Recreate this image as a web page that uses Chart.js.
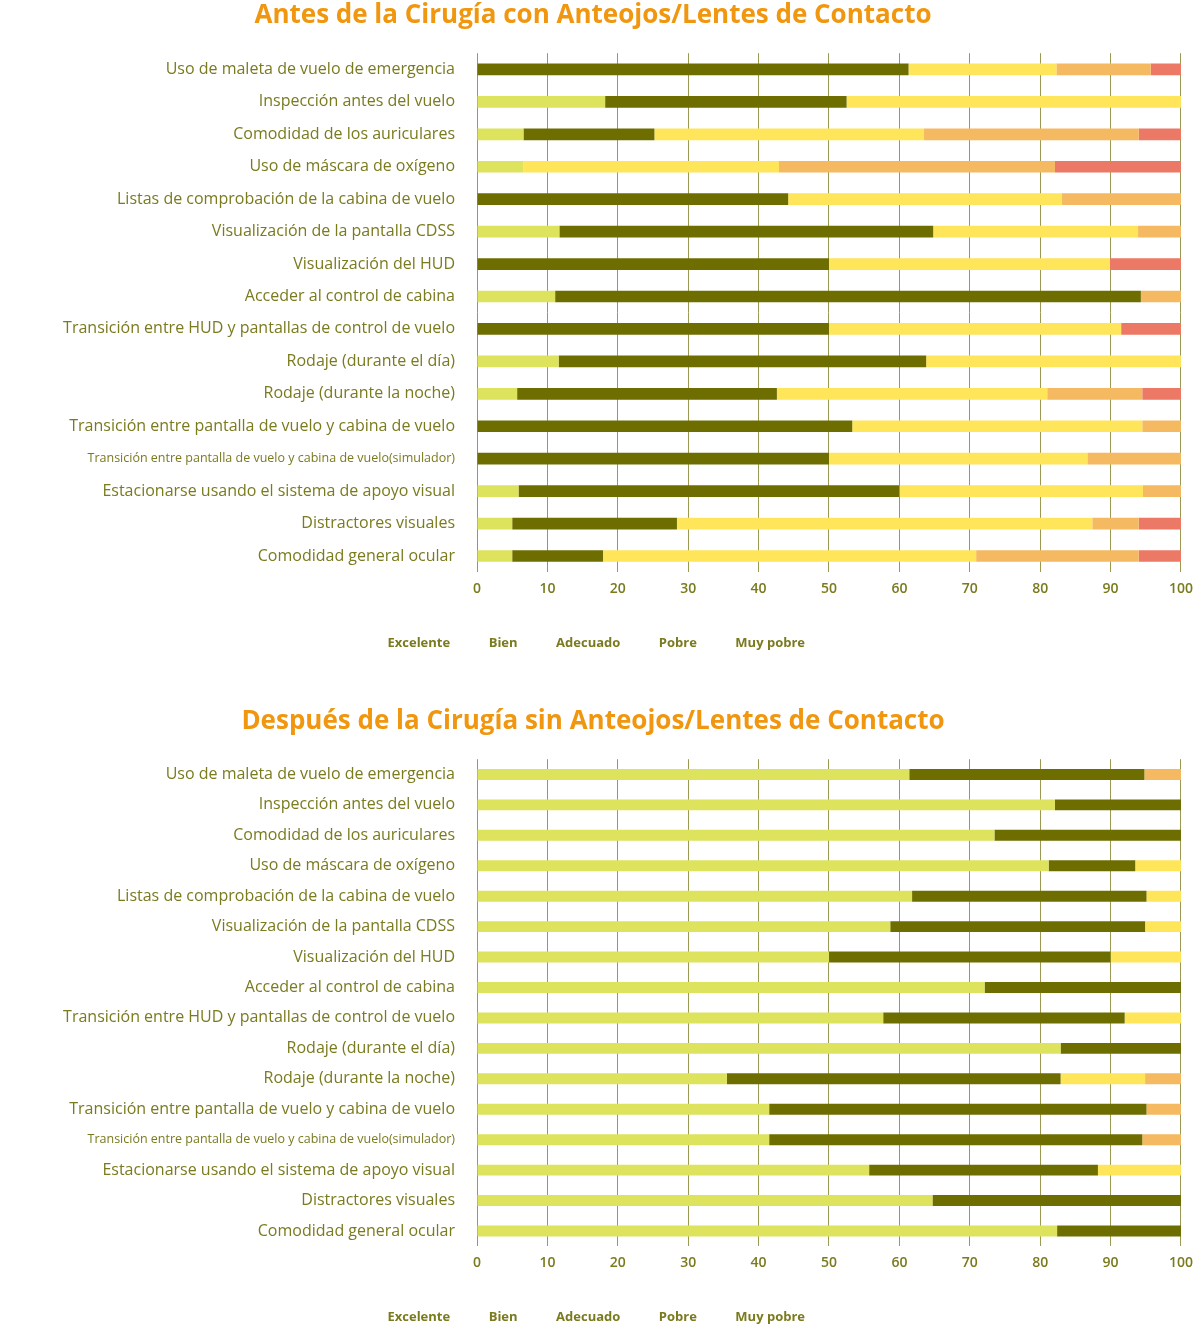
<!DOCTYPE html>
<html>
<head>
<meta charset="utf-8">
<script src="https://cdn.jsdelivr.net/npm/chart.js@4"></script>
<style>
  body { margin: 0; background: #fff; }
  .box { position: relative; width: 1201px; height: 660px; }
  .box + .box { margin-top: 46px; height: 628px; }
</style>
</head>
<body>
<div class="box"><canvas id="before"></canvas></div>
<div class="box"><canvas id="after"></canvas></div>
<script>
var categories = [
  'Uso de maleta de vuelo de emergencia',
  'Inspección antes del vuelo',
  'Comodidad de los auriculares',
  'Uso de máscara de oxígeno',
  'Listas de comprobación de la cabina de vuelo',
  'Visualización de la pantalla CDSS',
  'Visualización del HUD',
  'Acceder al control de cabina',
  'Transición entre HUD y pantallas de control de vuelo',
  'Rodaje (durante el día)',
  'Rodaje (durante la noche)',
  'Transición entre pantalla de vuelo y cabina de vuelo',
  'Transición entre pantalla de vuelo y cabina de vuelo(simulador)',
  'Estacionarse usando el sistema de apoyo visual',
  'Distractores visuales',
  'Comodidad general ocular'
];
var ratings = ['Excelente', 'Bien', 'Adecuado', 'Pobre', 'Muy pobre'];
var ratingColors = ['#dde35c', '#6e6e00', '#fee55a', '#f5b961', '#ec7866'];

// antes de la cirugía
var beforeExcelente = [0, 18.2, 6.6, 6.6, 0, 11.7, 0, 11.1, 0, 11.6, 5.7, 0, 0, 5.9, 5, 5];
var beforeBien      = [61.3, 34.3, 18.6, 0, 44.2, 53.1, 50, 83.2, 50, 52.2, 36.9, 53.3, 50, 54.1, 23.4, 12.9];
var beforeAdecuado  = [21, 47.5, 38.3, 36.3, 38.9, 29.1, 39.9, 0, 41.5, 36.2, 38.4, 41.2, 36.7, 34.6, 59, 53];
var beforePobre     = [13.4, 0, 30.5, 39.2, 16.9, 6.1, 0, 5.7, 0, 0, 13.5, 5.5, 13.3, 5.4, 6.6, 23.1];
var beforeMuyPobre  = [4.3, 0, 6, 17.9, 0, 0, 10.1, 0, 8.5, 0, 5.5, 0, 0, 0, 6, 6];

// después de la cirugía
var afterExcelente = [61.4, 82.1, 73.5, 81.2, 61.8, 58.7, 50, 72.1, 57.7, 82.9, 35.5, 41.5, 41.5, 55.7, 64.7, 82.4];
var afterBien      = [33.4, 17.9, 26.5, 12.3, 33.3, 36.2, 40, 27.9, 34.3, 17.1, 47.4, 53.6, 53, 32.5, 35.3, 17.6];
var afterAdecuado  = [0, 0, 0, 6.5, 4.9, 5.1, 10, 0, 8, 0, 12, 0, 0, 11.8, 0, 0];
var afterPobre     = [5.2, 0, 0, 0, 0, 0, 0, 0, 0, 0, 5.1, 4.9, 5.5, 0, 0, 0];
var afterMuyPobre  = [0, 0, 0, 0, 0, 0, 0, 0, 0, 0, 0, 0, 0, 0, 0, 0];

var xTicks = [0, 10, 20, 30, 40, 50, 60, 70, 80, 90, 100];

var olive = '#7a7a1e';
var font = '"Open Sans", Lato, sans-serif';

function makeChart(id, title, series, padTop) {
  var datasets = series.map(function (vals, i) {
    return {
      label: ratings[i],
      data: vals,
      backgroundColor: ratingColors[i],
      borderWidth: 0,
      categoryPercentage: 1,
      barPercentage: 0.36
    };
  });
  new Chart(document.getElementById(id), {
    type: 'bar',
    data: { labels: categories, datasets: datasets },
    options: {
      indexAxis: 'y',
      responsive: true,
      maintainAspectRatio: false,
      animation: false,
      layout: { padding: { top: padTop, right: 15, bottom: 0 } },
      scales: {
        x: {
          stacked: true,
          min: 0, max: 100,
          afterBuildTicks: function (s) { s.ticks = xTicks.map(function (v) { return { value: v }; }); },
          grid: { color: '#9a9a55', drawTicks: false, lineWidth: 1 },
          border: { display: false },
          ticks: { color: olive, padding: 8, font: { family: font, size: 14, weight: '600' } }
        },
        y: {
          stacked: true,
          afterFit: function (s) { s.width = 477; },
          grid: { display: false },
          border: { display: false },
          ticks: {
            color: olive, padding: 14,
            font: function (ctx) {
              return { family: font, size: ctx.index === 12 ? 12.5 : 16, weight: '500' };
            }
          }
        }
      },
      plugins: {
        title: {
          display: true, text: title, color: '#f0960f',
          font: { family: font, size: 26, weight: 'bold' },
          padding: { top: 0, bottom: 22 }
        },
        legend: {
          position: 'bottom',
          labels: {
            boxWidth: 0, boxHeight: 0, padding: 32, color: olive,
            font: { family: font, size: 13, weight: 'bold' }
          },
          padding: 30
        },
        tooltip: { enabled: false }
      }
    }
  });
}

makeChart('before', 'Antes de la Cirugía con Anteojos/Lentes de Contacto',
  [beforeExcelente, beforeBien, beforeAdecuado, beforePobre, beforeMuyPobre], 0);
makeChart('after', 'Después de la Cirugía sin Anteojos/Lentes de Contacto',
  [afterExcelente, afterBien, afterAdecuado, afterPobre, afterMuyPobre], 0);
</script>
</body>
</html>
